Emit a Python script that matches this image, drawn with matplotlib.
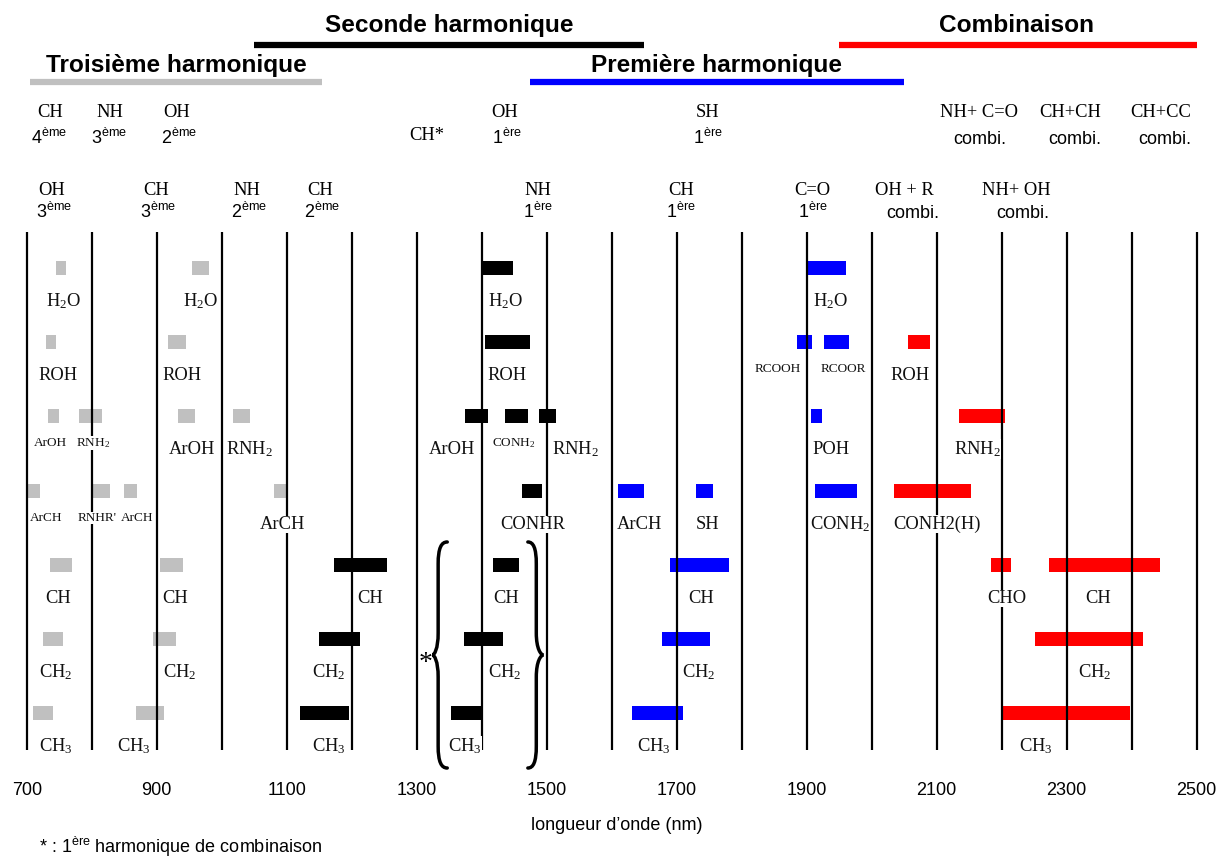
import matplotlib
matplotlib.use('Agg')
import matplotlib.pyplot as plt
from matplotlib.path import Path
from matplotlib.patches import PathPatch

plt.rcParams['mathtext.default'] = 'regular'
SERIF = 'Liberation Serif'
SANS = 'Liberation Sans'

# ---------------- data ----------------
grid_nm = list(range(700, 2501, 100))
xtick_values = [700, 900, 1100, 1300, 1500, 1700, 1900, 2100, 2300, 2500]

# third harmonic (gray)
third_row = [0, 0, 1, 1, 2, 2, 2, 2, 3, 3, 3, 3, 4, 4, 5, 5, 6, 6]
third_start = [745, 955, 730, 917, 733, 780, 933, 1017, 700, 800, 850, 1080, 736, 905, 725, 894, 710, 868]
third_end = [760, 980, 745, 945, 750, 816, 959, 1044, 720, 828, 870, 1101, 770, 941, 756, 930, 740, 911]

# second harmonic (black)
second_row = [0, 1, 2, 2, 2, 3, 4, 4, 5, 5, 6, 6]
second_start = [1400, 1405, 1374, 1436, 1488, 1462, 1173, 1417, 1150, 1373, 1121, 1352]
second_end = [1448, 1474, 1410, 1472, 1515, 1493, 1254, 1458, 1213, 1432, 1196, 1400]

# first harmonic (blue)
first_row = [0, 1, 1, 2, 3, 3, 3, 4, 5, 6]
first_start = [1901, 1885, 1927, 1907, 1610, 1730, 1913, 1689, 1678, 1632]
first_end = [1961, 1908, 1965, 1924, 1650, 1756, 1977, 1781, 1751, 1710]

# combination (red)
comb_row = [1, 2, 3, 4, 4, 5, 6]
comb_start = [2056, 2135, 2034, 2184, 2273, 2251, 2200]
comb_end = [2090, 2205, 2153, 2215, 2444, 2417, 2397]

# band labels
lab_row = [0, 0, 0, 0,
           1, 1, 1, 1, 1, 1,
           2, 2, 2, 2, 2, 2, 2, 2, 2,
           3, 3, 3, 3, 3, 3, 3, 3, 3,
           4, 4, 4, 4, 4, 4, 4,
           5, 5, 5, 5, 5, 5,
           6, 6, 6, 6, 6, 6]
lab_x = [757, 967, 1436, 1936,
         748, 939, 1439, 1856, 1956, 2059,
         736, 802, 954, 1043, 1354, 1450, 1544, 1937, 2163,
         730, 808, 870, 1094, 1478, 1643, 1747, 1951, 2100,
         748, 928, 1228, 1437, 1737, 2208, 2348,
         745, 936, 1165, 1436, 1734, 2343,
         745, 865, 1165, 1374, 1665, 2253]
lab_text = ['H$_2$O', 'H$_2$O', 'H$_2$O', 'H$_2$O',
            'ROH', 'ROH', 'ROH', 'RCOOH', 'RCOOR', 'ROH',
            'ArOH', 'RNH$_2$', 'ArOH', 'RNH$_2$', 'ArOH', 'CONH$_2$', 'RNH$_2$', 'POH', 'RNH$_2$',
            'ArCH', "RNHR'", 'ArCH', 'ArCH', 'CONHR', 'ArCH', 'SH', 'CONH$_2$', 'CONH2(H)',
            'CH', 'CH', 'CH', 'CH', 'CH', 'CHO', 'CH',
            'CH$_2$', 'CH$_2$', 'CH$_2$', 'CH$_2$', 'CH$_2$', 'CH$_2$',
            'CH$_3$', 'CH$_3$', 'CH$_3$', 'CH$_3$', 'CH$_3$', 'CH$_3$']
lab_small = [0, 0, 0, 0,
             0, 0, 0, 1, 1, 0,
             1, 1, 0, 0, 0, 1, 0, 0, 0,
             1, 1, 1, 0, 0, 0, 0, 0, 0,
             0, 0, 0, 0, 0, 0, 0,
             0, 0, 0, 0, 0, 0,
             0, 0, 0, 0, 0, 0]

# header bond labels (two lines)
hdrA_x = [736, 828, 931, 1316, 1436, 1747, 2165, 2305, 2445]
hdrA_text = ['CH', 'NH', 'OH', 'CH*', 'OH', 'SH', 'NH+ C=O', 'CH+CH', 'CH+CC']
hdrA_sub_x = [734, 827, 935, 1439, 1748, 2167, 2313, 2451]
hdrA_sub = ['4$^{ème}$', '3$^{ème}$', '2$^{ème}$', '1$^{ère}$', '1$^{ère}$', 'combi.', 'combi.', 'combi.']

hdrB_x = [739, 899, 1039, 1151, 1487, 1707, 1908, 2050, 2222]
hdrB_text = ['OH', 'CH', 'NH', 'CH', 'NH', 'CH', 'C=O', 'OH + R', 'NH+ OH']
hdrB_sub_x = [742, 902, 1042, 1154, 1487, 1707, 1910, 2063, 2233]
hdrB_sub = ['3$^{ème}$', '3$^{ème}$', '2$^{ème}$', '2$^{ème}$', '1$^{ère}$', '1$^{ère}$', '1$^{ère}$', 'combi.', 'combi.']

# harmonic ranges (title bars)
range_names = ['Troisième harmonique', 'Seconde harmonique', 'Première harmonique', 'Combinaison']
range_start = [705, 1050, 1475, 1950]
range_end = [1155, 1650, 2050, 2500]
range_label_x = [930, 1350, 1762, 2223]

# ---------------- layout / style ----------------
ROW_Y = [268, 341.5, 416, 491, 565, 639, 713]
RANGE_BAR_Y = [82, 44.5, 82, 44.5]
RANGE_TXT_Y = [72, 32, 72, 32]
RANGE_COL = ['#c0c0c0', 'black', '#0000ff', '#ff0000']

fig = plt.figure(figsize=(12.2, 8.57), dpi=100)
ax = fig.add_axes([0, 0, 1, 1])
ax.set_xlim(700 - 26.7 / 0.65, 700 + (1220 - 26.7) / 0.65)
ax.set_ylim(857, 0)
ax.axis('off')

# vertical grid lines
ax.vlines(grid_nm, 232, 750, color='black', lw=1.6, zorder=3)

# bars
def bars(rows, st, en, col):
    ax.barh([ROW_Y[r] for r in rows], [e - s for s, e in zip(st, en)], left=st,
            height=14, color=col, linewidth=0, zorder=2)

bars(third_row, third_start, third_end, '#c0c0c0')
bars(second_row, second_start, second_end, 'black')
bars(first_row, first_start, first_end, '#0000ff')
bars(comb_row, comb_start, comb_end, '#ff0000')

# band labels
for r, x, t, s in zip(lab_row, lab_x, lab_text, lab_small):
    y = ROW_Y[r] + (30 if s else 38)
    ax.text(x, y, t, ha='center', va='baseline', family=SERIF,
            fontsize=9.5 if s else 13.3, color='#111111', zorder=4,
            bbox=dict(facecolor='white', edgecolor='none', pad=0.3))

# harmonic range titles
for name, s, e, lx, by, ty, c in zip(range_names, range_start, range_end, range_label_x,
                                     RANGE_BAR_Y, RANGE_TXT_Y, RANGE_COL):
    ax.plot([s, e], [by, by], color=c, lw=4.5, solid_capstyle='butt')
    ax.text(lx, ty, name, ha='center', va='baseline', family=SANS,
            fontweight='bold', fontsize=17.6)

# header bond labels
for x, t in zip(hdrA_x, hdrA_text):
    y = 140 if '*' in t else 117
    ax.text(x, y, t, ha='center', va='baseline', family=SERIF, fontsize=13.3)
for x, t in zip(hdrA_sub_x, hdrA_sub):
    ax.text(x, 144, t, ha='center', va='baseline', family=SANS, fontsize=13)
for x, t in zip(hdrB_x, hdrB_text):
    ax.text(x, 195, t, ha='center', va='baseline', family=SERIF, fontsize=13.3)
for x, t in zip(hdrB_sub_x, hdrB_sub):
    ax.text(x, 218, t, ha='center', va='baseline', family=SANS, fontsize=13)

# braces
def brace(x_stem, x_end, x_tip, y0, y1):
    ym = (y0 + y1) / 2
    k = 0.35
    verts = [(x_end, y0),
             (x_stem + (x_end - x_stem) * k, y0), (x_stem, y0 + 6), (x_stem, y0 + 22),
             (x_stem, ym - 22),
             (x_stem, ym - 6), (x_tip + (x_stem - x_tip) * k, ym), (x_tip, ym),
             (x_tip + (x_stem - x_tip) * k, ym), (x_stem, ym + 6), (x_stem, ym + 22),
             (x_stem, y1 - 22),
             (x_stem, y1 - 6), (x_stem + (x_end - x_stem) * k, y1), (x_end, y1)]
    codes = [Path.MOVETO, Path.CURVE4, Path.CURVE4, Path.CURVE4, Path.LINETO,
             Path.CURVE4, Path.CURVE4, Path.CURVE4, Path.CURVE4, Path.CURVE4, Path.CURVE4,
             Path.LINETO, Path.CURVE4, Path.CURVE4, Path.CURVE4]
    ax.add_patch(PathPatch(Path(verts, codes), facecolor='none', edgecolor='black',
                           lw=2.5, zorder=4, capstyle='round'))

brace(1333, 1347, 1324, 542, 768)
brace(1484, 1471, 1495, 542, 768)
ax.text(1313, 670, '*', ha='center', va='baseline', family=SERIF, fontsize=20)

# x tick labels and axis label
for t in xtick_values:
    ax.text(t, 795, str(t), ha='center', va='baseline', family=SANS, fontsize=13)
ax.text(1608, 830, 'longueur d\u2019onde (nm)', ha='center', va='baseline',
        family=SANS, fontsize=13)

fig.text(39 / 1220, 1 - 853 / 857, '* : 1$^{ère}$ harmonique de combinaison',
         ha='left', va='baseline', family=SANS, fontsize=13)

fig.savefig('out.png', dpi=100)
